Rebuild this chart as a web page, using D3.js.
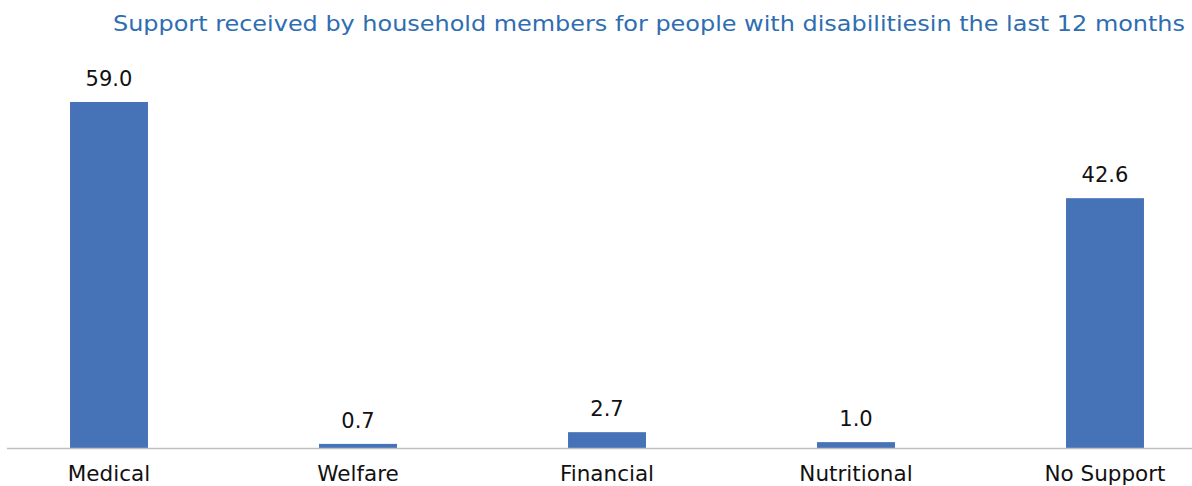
<!DOCTYPE html>
<html><head><meta charset="utf-8">
<script src="https://cdn.jsdelivr.net/npm/d3@7"></script>
<style>body{margin:0;background:#fff;}svg{display:block;}</style>
</head><body>
<script>
const categories = ["Medical","Welfare","Financial","Nutritional","No Support"];
const values = [59.0, 0.7, 2.7, 1.0, 42.6];
const valueLabels = ["59.0","0.7","2.7","1.0","42.6"];
const title = "Support received by household members for people with disabilitiesin the last 12 months";

const W = 1192, H = 486;
const svg = d3.select("body").append("svg").attr("width", W).attr("height", H);
const font = "'DejaVu Sans', sans-serif";

const x = d3.scaleBand().domain(categories).range([-15.5, 1229.5]).paddingInner(0.687).paddingOuter(0.3435);
const y = d3.scaleLinear().domain([0, 59]).range([448, 102]);

svg.append("text").attr("x", 113).attr("y", 31).attr("text-anchor","start")
  .attr("font-family", font).attr("font-size", 21.5).attr("fill", "#2E6DB2")
  .attr("textLength", 1072).attr("lengthAdjust", "spacingAndGlyphs").text(title);

svg.selectAll("rect.bar").data(categories).join("rect").attr("class","bar")
  .attr("x", d => x(d)).attr("width", x.bandwidth())
  .attr("y", (d,i) => y(values[i])).attr("height", (d,i) => y(0) - y(values[i]))
  .attr("fill", "#4672B8");

svg.append("line").attr("x1", 7).attr("x2", W).attr("y1", 448.5).attr("y2", 448.5)
  .attr("stroke", "#BFBFBF").attr("stroke-width", 1.5);

svg.selectAll("text.val").data(categories).join("text").attr("class","val")
  .attr("x", d => x(d) + x.bandwidth()/2).attr("y", (d,i) => y(values[i]) - 16)
  .attr("text-anchor","middle").attr("font-family", font).attr("font-size", 21).attr("fill","#111")
  .text((d,i) => valueLabels[i]);

const xAxis = d3.axisBottom(x).tickSize(0).tickPadding(0);
const gx = svg.append("g").attr("transform","translate(0,448)").call(xAxis);
gx.select(".domain").remove();
gx.selectAll("text").attr("font-family", font).attr("font-size", 21.5).attr("fill","#111")
  .attr("dy", null).attr("y", 33);
</script>
</body></html>
